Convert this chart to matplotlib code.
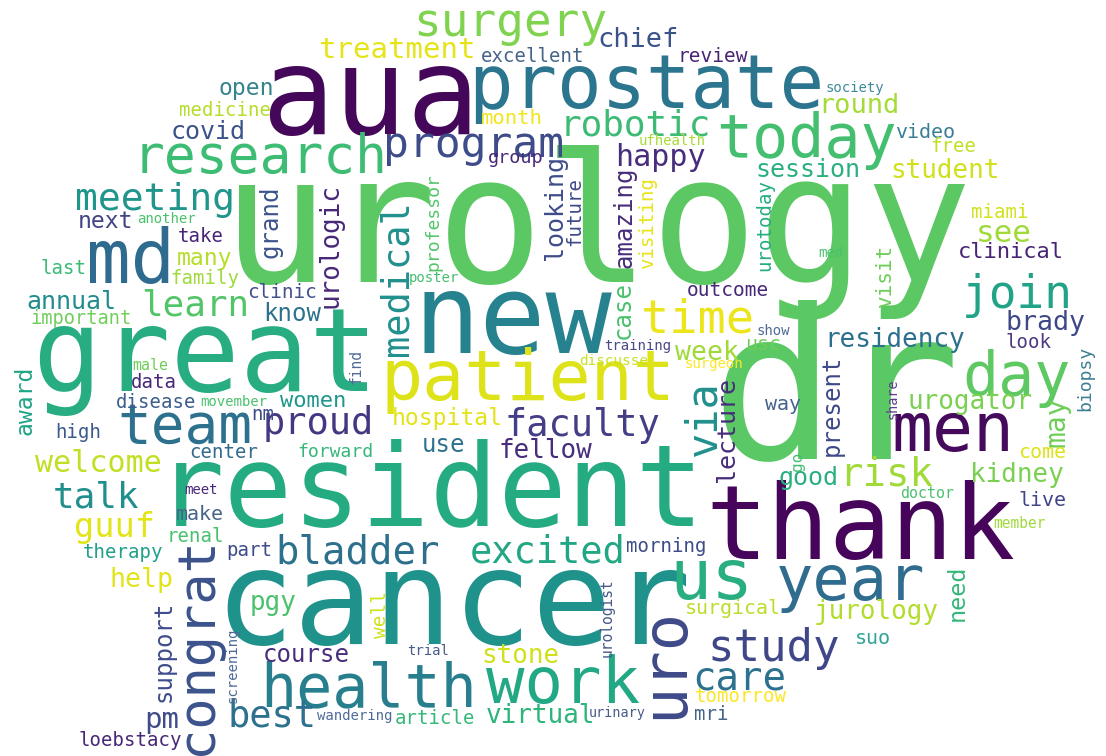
import matplotlib
matplotlib.use("Agg")
import matplotlib.pyplot as plt

# word cloud terms, drawn size (em height in px) and colour
words = ["urology", "dr", "aua", "prostate", "great", "resident", "cancer", "thank",
         "new", "patient", "health", "work", "research", "today", "team", "md",
         "year", "us", "uro", "congrat", "men", "day", "join", "time",
         "faculty", "study", "care", "best", "talk", "meeting", "bladder", "excited",
         "risk", "via", "proud", "robotic", "program", "surgery", "learn", "treatment",
         "excellent", "chief", "review", "society", "medicine", "open", "covid", "round",
         "video", "free", "student", "session", "happy", "ufhealth", "month", "group",
         "next", "another", "take", "many", "grand", "last", "family", "annual",
         "important", "know", "clinic", "urologic", "medical", "professor", "poster", "looking",
         "future", "amazing", "visiting", "urotoday", "miami", "see", "med", "visit",
         "clinical", "residency", "brady", "look", "biopsy", "present", "share", "urogator",
         "may", "come", "kidney", "good", "go", "doctor", "live", "member",
         "jurology", "need", "suo", "surgical", "morning", "urologist", "tomorrow", "mri",
         "urinary", "virtual", "article", "wandering", "loebstacy", "pm", "support", "screening",
         "help", "therapy", "guuf", "make", "renal", "part", "pgy", "course",
         "trial", "well", "stone", "outcome", "case", "show", "training", "discusse",
         "week", "usc", "surgeon", "fellow", "lecture", "way", "hospital", "women",
         "find", "use", "forward", "center", "meet", "welcome", "high", "nm",
         "award", "male", "data", "disease", "movember"]

sizes = [178, 208, 121, 74, 115, 114, 132, 103,
         110, 70, 60, 64, 53, 60, 56, 74,
         62, 70, 62, 52, 68, 60, 46, 47,
         37, 44, 39, 37, 36, 38, 39, 37,
         39, 42, 37, 36, 43, 46, 36, 29,
         19, 27, 19.5, 14, 19, 23, 25, 27,
         20, 19, 26, 25, 30, 14, 20.5, 18.5,
         23, 14, 19, 23, 24, 19, 19, 25,
         18.6, 24, 19.4, 26, 37, 18, 14, 25,
         19, 24, 19, 19, 19, 31, 14, 21,
         22, 26, 26.6, 19, 18, 24, 13.5, 26,
         28, 20, 26, 25, 16, 15, 20, 14.5,
         26, 23.5, 20, 20, 19, 14.6, 19, 19,
         13.5, 26, 19, 14, 19, 29, 24, 14,
         26.5, 19, 33.6, 20, 19, 19, 26, 24,
         14, 19.5, 26, 19.5, 24, 14, 14, 14.3,
         26.5, 20, 14, 26, 25, 20, 23, 22,
         14.6, 24, 18, 19, 14, 30, 19, 19,
         23, 15, 19, 19, 14]

colors = ["#5cc863", "#5ac864", "#45075a", "#2b758e", "#27ad81", "#25ab82", "#20928c", "#46045a",
          "#26828e", "#dde318", "#277f8e", "#22a884", "#3dbc74", "#44bf70", "#2d718e", "#2f6b8e",
          "#2f6c8e", "#28ae80", "#3e4a89", "#3b528b", "#450a5c", "#5ec962", "#20a386", "#ece51b",
          "#433e85", "#3f4788", "#2c728e", "#2c718e", "#218f8d", "#1f958b", "#2d708e", "#22a785",
          "#a0da39", "#21908d", "#453781", "#3cbb75", "#3e4c8a", "#7fd34e", "#52c569", "#e5e419",
          "#46648a", "#3b528b", "#482475", "#3e8a98", "#b5de2b", "#35838d", "#3b528b", "#a5db36",
          "#3a7e95", "#c0df25", "#d0e11c", "#2ab07f", "#472d7b", "#a8db34", "#f1e51d", "#482878",
          "#414487", "#4ac16d", "#482677", "#b5de2b", "#3b528b", "#3bbb75", "#9fda3a", "#228c8d",
          "#6ece58", "#2c728e", "#43518b", "#482878", "#21908d", "#52c569", "#44bf70", "#3e4c8a",
          "#3e4a89", "#472c7a", "#e8e419", "#27ad81", "#d2e21b", "#a0da39", "#4ac16d", "#6ece58",
          "#482475", "#2d708e", "#3f4788", "#4d3a83", "#3d7f93", "#3e4a89", "#5c3d8a", "#7ad151",
          "#6ece58", "#dde318", "#7ad151", "#29af7f", "#44bf70", "#4ac16d", "#414487", "#9fda3a",
          "#b2dd2d", "#35b779", "#2ea597", "#bade28", "#3e4c8a", "#46588a", "#fde725", "#46648a",
          "#4a5c8a", "#2fb47c", "#37b878", "#4f6b98", "#482878", "#3e4c8a", "#3e4c8a", "#4b6a96",
          "#e2e418", "#21a08a", "#e2e418", "#46648a", "#4ac16d", "#3e4c8a", "#4ac16d", "#472d7b",
          "#4b5d8c", "#d0e11c", "#d0e11c", "#482878", "#4ac16d", "#4f6b98", "#4b4a89", "#c8e020",
          "#a0da39", "#6ece58", "#fde725", "#472d7b", "#472d7b", "#46648a", "#e2e418", "#1f968b",
          "#4f6b98", "#2c728e", "#35b779", "#336a8e", "#482878", "#c2df23", "#3d5a8d", "#3e4c8a",
          "#20a486", "#6ece58", "#482878", "#3b5e8c", "#4ac16d"]

# layout of the cloud (pixel centre of each word, vertical flag)
pos_x = [597, 836, 370, 646, 205, 430, 453, 860,
         513, 528, 369, 563, 260, 806, 185, 131,
         851, 712, 665, 197, 953, 1017, 1017, 697,
         582, 774, 739, 272, 96, 155, 358, 548,
         886, 703, 318, 635, 474, 510, 195, 397,
         533, 638, 713, 855, 225, 246, 208, 859,
         925, 953, 945, 808, 660, 672, 512, 516,
         106, 166, 201, 204, 270, 63, 205, 71,
         81, 292, 282, 330, 397, 433, 434, 555,
         575, 625, 648, 765, 1000, 1004, 831, 885,
         1011, 895, 1045, 1028, 1085, 832, 893, 970,
         1057, 1042, 1017, 808, 797, 927, 1042, 1020,
         876, 957, 873, 733, 666, 607, 741, 711,
         617, 540, 435, 355, 130, 162, 164, 233,
         142, 123, 115, 200, 195, 249, 273, 306,
         428, 380, 520, 728, 623, 773, 638, 614,
         707, 763, 714, 545, 727, 783, 447, 313,
         356, 443, 335, 224, 201, 98, 78, 263,
         25, 150, 154, 156, 234]

pos_y = [232, 400, 100, 87, 360, 494, 607, 530,
         322, 380, 690, 685, 158, 140, 428, 262,
         583, 580, 663, 646, 432, 378, 295, 320,
         425, 648, 678, 716, 498, 200, 553, 552,
         475, 418, 423, 126, 145, 23, 305, 50,
         56, 40, 56, 88, 110, 88, 132, 106,
         132, 147, 171, 170, 157, 141, 118, 158,
         222, 219, 237, 258, 222, 268, 279, 302,
         318, 314, 293, 246, 278, 222, 278, 208,
         211, 217, 223, 225, 212, 233, 253, 275,
         252, 340, 323, 342, 378, 405, 399, 402,
         422, 452, 475, 478, 461, 493, 500, 523,
         612, 593, 638, 608, 547, 618, 697, 714,
         713, 716, 718, 716, 741, 720, 651, 665,
         580, 553, 527, 515, 537, 550, 603, 655,
         651, 615, 656, 291, 310, 331, 346, 361,
         353, 345, 364, 451, 430, 404, 418, 401,
         367, 445, 452, 453, 490, 463, 432, 415,
         400, 365, 382, 402, 402]

vertical = {"uro", "congrat", "via", "grand", "urologic", "medical", "professor",
            "looking", "future", "amazing", "visiting", "urotoday", "visit", "biopsy",
            "present", "share", "may", "go", "need", "urologist", "support",
            "screening", "well", "case", "lecture", "find", "award"}

W, H = 1106, 756
fig = plt.figure(figsize=(W / 100, H / 100), dpi=100)
ax = fig.add_axes([0, 0, 1, 1])
ax.set_xlim(0, W)
ax.set_ylim(H, 0)
ax.axis("off")

for w, s, c, x, y in zip(words, sizes, colors, pos_x, pos_y):
    ax.text(x, y, w, fontsize=s * 0.72, color=c, family="DejaVu Sans Mono",
            ha="center", va="center", rotation=90 if w in vertical else 0)

fig.savefig("out.png", dpi=100, facecolor="white")
